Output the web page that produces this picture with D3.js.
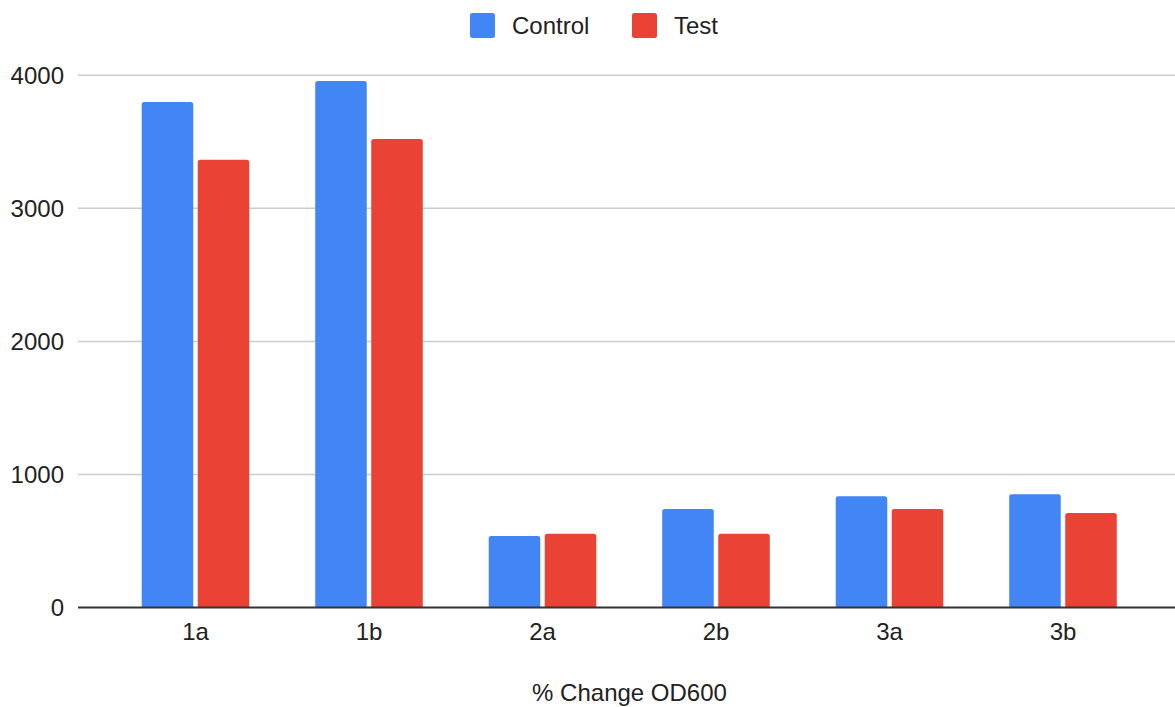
<!DOCTYPE html>
<html lang="en">
	<head>
		<meta charset="utf-8">
		<title>% Change OD600</title>
		<script src="https://d3js.org/d3.v7.min.js"></script>
		<style>
			body { margin: 0; background: #fff; }
			text { font-family: Arial, "Liberation Sans", sans-serif; fill: #222; }
		</style>
	</head>
	<body>
		<script type="text/javascript">

			// data
			var categories = ["1a", "1b", "2a", "2b", "3a", "3b"]
			var seriesNames = ["Control", "Test"]
			var controlValues = [3800, 3957, 537, 740, 836, 851]
			var testValues = [3366, 3521, 555, 555, 740, 710]
			var yTicks = [0, 1000, 2000, 3000, 4000]
			var colors = ["#4285f4", "#ea4335"]

			// window setup
			var w = 1175
			var h = 707
			var plotLeft = 78, plotRight = 1175
			var y0 = 607.5, yTop = 75.3
			var fontSize = "24px"

			var svg = d3.select("body")
						.append("svg")
						.attr("width", w)
						.attr("height", h)

			// scales
			var y = d3.scaleLinear()
						.domain([0, 4000])
						.range([y0, yTop])

			var x = d3.scaleBand()
						.domain(categories)
						.range([108.75, 1149.75])
						.paddingInner(0.38)
						.paddingOuter(0.19)

			var xInner = d3.scaleBand()
						.domain(seriesNames)
						.range([0, x.bandwidth()])
						.paddingInner(0.08)

			// gridlines
			svg.append("g")
				.selectAll("line")
				.data(yTicks.filter(function(d){ return d > 0 }))
				.enter()
				.append("line")
				.attr("x1", plotLeft)
				.attr("x2", plotRight)
				.attr("y1", function(d){ return y(d) })
				.attr("y2", function(d){ return y(d) })
				.attr("stroke", "#ccc")
				.attr("stroke-width", 1.5)

			// y tick labels
			svg.append("g")
				.selectAll("text")
				.data(yTicks)
				.enter()
				.append("text")
				.attr("x", 64)
				.attr("y", function(d){ return y(d) })
				.attr("dy", "0.36em")
				.attr("text-anchor", "end")
				.style("font-size", fontSize)
				.text(function(d){ return d })

			// bars
			var rows = categories.map(function(c, i){
				return { cat: c, vals: [controlValues[i], testValues[i]] }
			})

			var groups = svg.append("g")
				.selectAll("g")
				.data(rows)
				.enter()
				.append("g")
				.attr("transform", function(d){ return "translate(" + x(d.cat) + ",0)" })

			groups.selectAll("path")
				.data(function(d){
					return d.vals.map(function(v, k){ return { name: seriesNames[k], value: v, k: k } })
				})
				.enter()
				.append("path")
				.attr("fill", function(d){ return colors[d.k] })
				.attr("d", function(d){
					var bx = xInner(d.name), bw = xInner.bandwidth()
					var top = y(d.value), r = 2.5
					return "M" + bx + "," + y0 +
						"V" + (top + r) +
						"Q" + bx + "," + top + " " + (bx + r) + "," + top +
						"H" + (bx + bw - r) +
						"Q" + (bx + bw) + "," + top + " " + (bx + bw) + "," + (top + r) +
						"V" + y0 + "Z"
				})

			// baseline
			svg.append("line")
				.attr("x1", plotLeft)
				.attr("x2", plotRight)
				.attr("y1", y0)
				.attr("y2", y0)
				.attr("stroke", "#333")
				.attr("stroke-width", 2)

			// x labels
			svg.append("g")
				.selectAll("text")
				.data(categories)
				.enter()
				.append("text")
				.attr("x", function(d){ return x(d) + x.bandwidth() / 2 })
				.attr("y", 640)
				.attr("text-anchor", "middle")
				.style("font-size", fontSize)
				.text(function(d){ return d })

			// x title
			svg.append("text")
				.attr("x", 629.5)
				.attr("y", 701)
				.attr("text-anchor", "middle")
				.style("font-size", fontSize)
				.text("% Change OD600")

			// legend
			var legendX = [470, 632]
			var legend = svg.append("g")
				.selectAll("g")
				.data(seriesNames)
				.enter()
				.append("g")
				.attr("transform", function(d, i){ return "translate(" + legendX[i] + ",13)" })

			legend.append("rect")
				.attr("width", 25)
				.attr("height", 25)
				.attr("rx", 2.5)
				.attr("fill", function(d, i){ return colors[i] })

			legend.append("text")
				.attr("x", 42)
				.attr("y", 12.5)
				.attr("dy", "0.36em")
				.style("font-size", fontSize)
				.text(function(d){ return d })

		</script>
	</body>
</html>
